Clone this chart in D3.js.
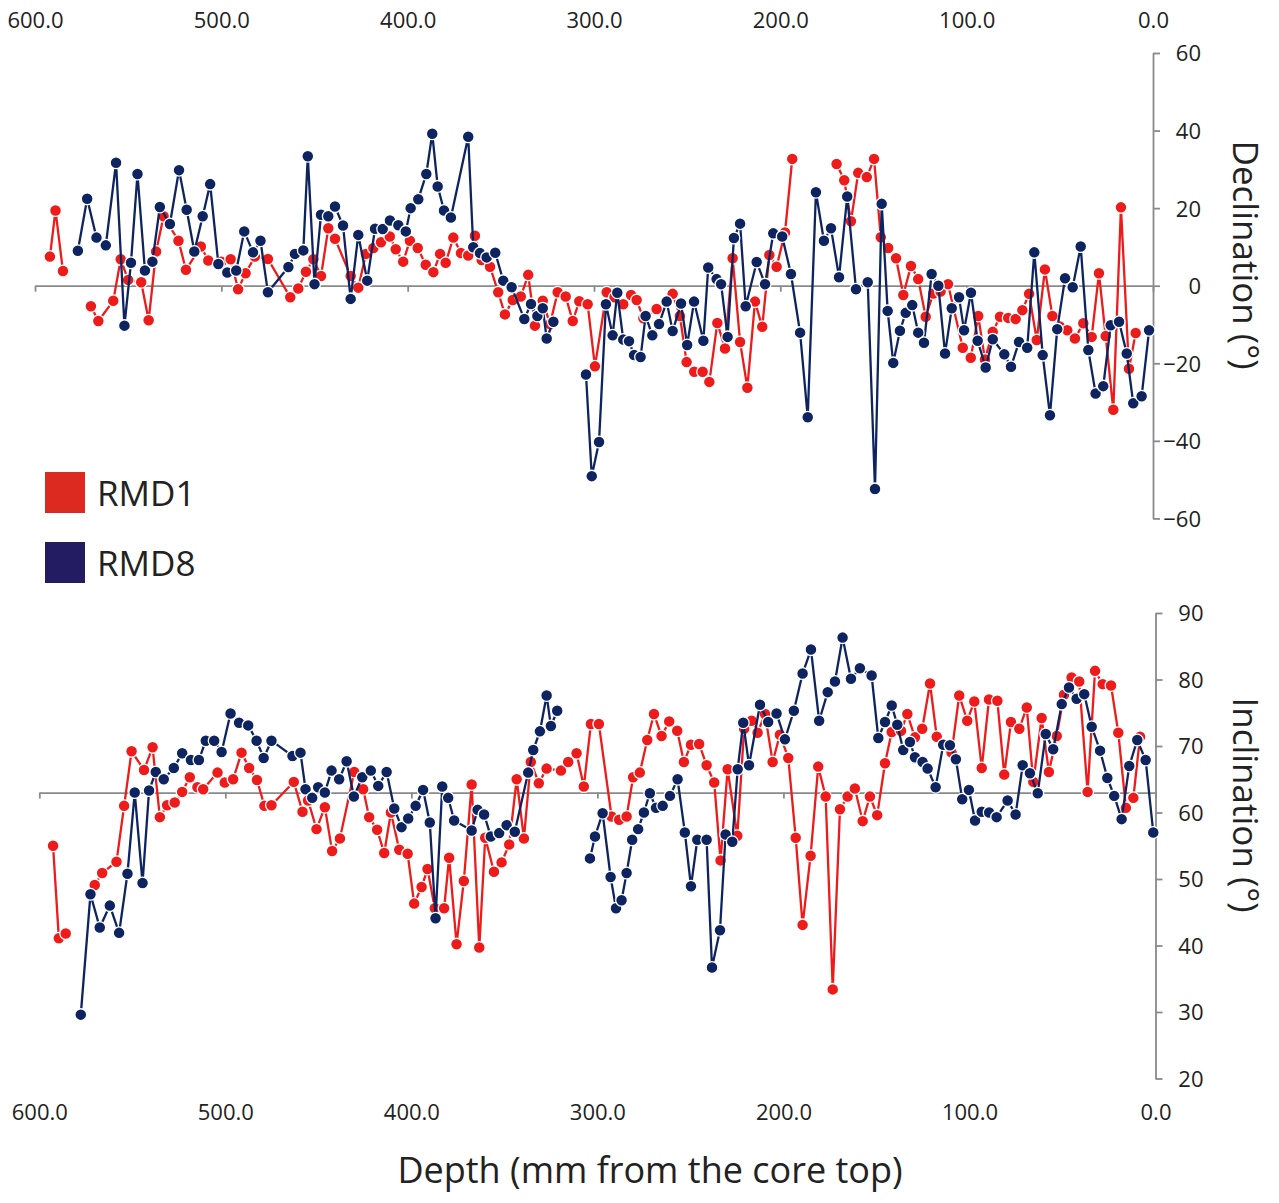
<!DOCTYPE html>
<html><head><meta charset="utf-8">
<script src="https://cdn.jsdelivr.net/npm/d3@7"></script>
<style>body{margin:0;background:#fff} text{font-family:"Open Sans",sans-serif}</style>
</head><body><svg id="c" width="1279" height="1203"></svg>
<script>
const xTicks=[600,500,400,300,200,100,0];
const declTicks=[-60,-40,-20,0,20,40,60];
const inclTicks=[20,30,40,50,60,70,80,90];
const seriesNames=["RMD1","RMD8"];
const inclBase=63;

// Declination, RMD1 (null = gap)
const rmd1DeclDepth=[592,589,585,577,570,566,558,554,550,543,539,535,531,523,519,511,507,500,495,491,487,482,475,463,458.7,454.6,450.6,446.5,442.6,439,430.6,426.5,422.4,418.4,414.3,409.6,406.4,402.4,398.8,394.6,390.3,386.2,382.6,379.6,375.5,371.4,367.5,363.9,360.3,355.8,351.4,347.8,343.6,339.3,335.3,331.7,327.5,323.6,319.5,315.2,311.4,307.9,303.4,299.5,293.2,289,284.3,280.1,277.1,273.5,266.4,257.8,253.9,250.3,246.2,241.7,238.1,233.8,229.7,225.6,221.6,217.7,213.6,209.7,205.9,202,197.5,193.6,182,169.8,165.7,162.1,158.2,153.6,149.7,146.1,142.1,137.9,134,129.9,126,122,117.9,114,110,102.1,97.8,93.8,90.2,86,82.1,77.7,73.7,70.1,66.5,62.4,58,54,50,46,41.9,37.4,32.9,29,25.4,21.3,17.2,12.9,9.3];
const rmd1Decl=[7.5,19.4,3.8,null,-5.3,-9.1,-3.9,6.8,1.5,0.9,-8.9,8.8,17.9,11.6,4.1,10.1,6.5,6.2,6.8,-0.9,3.2,7.5,6.9,-3,-0.7,3.6,6.8,2.5,14.8,12.1,2.5,-0.5,8.2,9.7,11.2,12.7,9.4,6.2,11.6,9.7,5.4,3.5,8.2,5.9,12.4,8.4,7.8,12.9,6.6,4.9,-1.7,-7.4,-3.7,-2.8,2.8,-10.3,-3.9,-9.9,-1.7,-2.8,-9.1,-4,-4.8,-20.8,-1.7,-3,-4.8,-2.4,-3.7,-8.4,-6,-2.1,-7.8,-19.7,-22.2,-22.2,-24.8,-9.6,-16.2,7.1,-14.5,-26.3,-4.1,-10.6,7.9,4.9,13.7,32.7,null,31.4,27.2,16.6,29.1,28,32.7,12.5,9.7,7.1,-2.4,5.1,1.7,-8,-2,-1.5,0.4,-16,-18.6,-7.8,-19,-11.9,-8,-8.3,-8.6,-6.3,-2.1,-14,4.2,-7.8,-10.5,-11.5,-13.6,-9.7,-13.2,3.2,-13,-32,20.2,-21.4,-12.2];

// Declination, RMD8
const rmd8DeclDepth=[577,572,567,562,556.5,552,548.5,545,541,537,533,527.6,522.7,518.6,514.5,510,506,501.6,496.8,492,487.7,483,479,475,464,460.5,456,453.6,450,446.5,442.6,439,434.7,430.6,426.5,421.7,417.5,413.4,409.5,405,401,398.4,394.3,390,386.8,383.9,380.5,376.8,367.5,364.8,361.2,357.6,353,348.7,344.2,337.4,333.8,330.4,327.5,325.4,321.8,313,304.3,301.2,297.3,293.6,290,287.5,284.3,281.2,278.5,275,272.3,268.7,265.1,261,257.8,253.3,250,246.3,241.3,238.7,234.2,231.8,228.3,224.9,221.6,218.6,212.7,208.2,203.8,199,194.3,189.4,185.3,180.9,176.6,172.8,168.5,164.1,159.4,153.1,149.2,145.6,142.4,139.4,135.8,132.7,129.2,126,122.9,118.8,115.2,111.6,108,104.1,101.4,97.7,94.1,89.8,86,79.8,76.2,71.9,67.5,63.7,59.2,55.3,51.4,47.2,43.1,38.8,34.7,30.8,26.7,22.7,18.2,14.1,10.6,6.1,2.1];
const rmd8Decl=[9,22.4,12.4,10.4,31.7,-10.3,5.9,28.8,3.9,6.2,20.3,15.9,29.8,19.6,8.8,17.9,26.2,5.6,3.4,3.9,14,8.6,11.6,-1.7,4.8,8.2,9.1,33.4,0.4,18.3,17.9,20.4,15.5,-3.4,13.1,1.3,14.7,14.6,16.8,15.6,14,20,22.3,28.8,39.2,25.6,19.4,17.6,38.4,9.9,8.4,7.3,8.5,1.3,-0.4,-8.6,-4.7,-7.8,-5.8,-13.6,-9.3,null,-22.9,-49.1,-40.3,-4.8,-12.8,-1.8,-13.9,-14.3,-17.9,-18.4,-7.8,-12.8,-9.9,-4.1,-11.7,-4.6,-15.3,-4.1,-14.2,4.7,1.7,0.4,-13.2,12.3,16,-5.3,6.1,0.4,13.5,12.7,3,-12.1,-33.9,24.1,11.6,14.8,2.2,23,-0.9,0.9,-52.4,21.1,-6.5,-19.9,-11.6,-7,-5,-12.1,-14.7,3,0,-17.5,-5.8,-3,-11.5,-1.8,-14.2,-21.1,-13.8,-17.7,-20.9,-14.5,-16,8.6,-17.9,-33.4,-11.2,1.9,-0.4,10.1,-16.6,-27.8,-25.9,-10.2,-9.3,-17.5,-30.3,-28.5,-11.5];

// Inclination, RMD1
const rmd1InclDepth=[592.6,589.5,585.8,578,570.2,566.2,558.5,554.4,550.4,543.7,539.1,535.2,531.3,527.2,523.2,519.1,515,511.9,504.2,500.3,495.8,491.3,487.2,483,479,475.2,463.2,458.5,455.5,451,446.5,442.6,438.4,430.7,425.9,422.7,418.4,414.6,411,406.5,402,398.5,394.5,391.3,387.4,382.4,379.7,375.7,371.8,367.6,363.5,360.3,355.6,351.5,347.4,343.4,339.5,335.8,331.5,327.3,319.6,315.7,311.2,307.3,303.5,299.2,292.4,288.3,284.3,280.8,277.2,273.2,269.6,265.5,261.4,257.1,253.5,249.7,245.3,241.3,237.2,233.8,230,224.8,221.1,217.1,213.9,209.9,205.8,201.9,197.4,193.4,189.7,185.4,181.3,177.3,173.5,169.6,165.5,161.6,157.4,153.5,149.6,145.4,141.8,136.8,133.4,129.3,125.4,121.2,117.6,109.6,105.5,101.2,97.4,93.4,89.5,85,81.3,77.7,73.2,69.2,65.7,61.2,57.3,53.1,49.2,45.1,41,36.5,32.5,28.4,23.9,20,15.9,11.9,8.3];
const rmd1Incl=[55,41.1,41.8,null,49.1,50.9,52.6,61,69.2,66.4,69.8,59.3,61.1,61.5,63.1,65.3,63.8,63.5,66,64.5,65,69,66.7,64.9,61,61.1,64.6,60.1,61.8,57.5,60.8,54.2,56.1,66.1,63.5,59.3,57.4,53.9,60,54.4,53.8,46.3,48.8,51.5,45.6,45.6,53.2,40.2,49.7,64.2,39.7,56.2,51.1,52.5,55.2,65,56.1,67.6,64.4,66.6,66.3,67.6,68.9,63.9,73.3,73.3,59.4,58.9,59.4,65.3,66,70.9,74.8,71.5,73.7,72.3,67.6,70.2,70.3,67.1,64.5,52.8,66.5,56.5,72.6,73.8,72,74.8,67.6,71.7,68.2,56.2,43.1,53.5,66.9,62.4,33.4,60.5,62.4,63.6,58.7,62.4,59.6,67.4,72.1,72.3,74.8,71.3,72.6,79.4,71.4,69,77.6,73.8,76.7,66.7,77,76.8,65.7,73.6,72.6,75.8,64.6,74.2,66.1,71.5,77.7,80.3,79.7,63.1,81.3,79.3,79.1,72,60.7,62.2,71.4];

// Inclination, RMD8
const rmd8InclDepth=[577.7,572.5,567.5,562.1,557.1,552.6,548.7,544.5,541,537.4,533.1,527.7,523.2,518.5,514.2,510.5,506,502,497.2,492.6,487.7,483.2,479.4,475.2,463.9,459.6,456.9,453.3,450.1,446.5,442.9,438.8,434.8,430.9,426.4,421.8,417.8,413.3,409.2,405.3,401.7,397.7,393.7,390.1,387,383.4,380.2,377,367.6,364.4,360.9,357.3,352.8,348.8,344.4,337.2,334.5,330.9,327.3,325,321.6,313,304,301.3,297.2,292.9,290,287,284.3,281.3,278.1,275,271.8,268.5,264.9,261,256.9,253,249.7,246.3,241.3,238.4,234.1,231.1,227.5,224.6,221.6,218.5,212.6,208.2,203.7,199.2,194.4,189.7,185.2,180.8,176.2,172.3,168.2,163.7,158.9,152.6,149,145.4,141.8,138.8,135.6,132,129.3,125.2,122.5,118.2,114.1,110.5,107.3,103.9,100.3,97,93.4,89.4,85.4,79.5,75.2,71.4,67.5,63.3,59,55,50.4,46.5,42.4,38.3,34.3,29.8,25.9,22.2,18.2,14.1,9.8,5.3,1.2];
const rmd8Incl=[29.6,47.7,42.7,46,41.9,50.8,63,49.4,63.3,66.1,65,66.7,68.9,67.9,67.9,70.8,70.8,69.1,74.9,73.5,73.1,70.8,68.2,70.8,68.5,69,63.5,62.2,63.8,63,66.3,65,67.7,62.4,65.3,66.3,64,66.1,60.6,57.8,59.1,61,63.4,58.5,44.1,63.9,62.2,58.8,57.3,60.4,59.7,56.4,56.9,58.1,57.1,66,69.4,72.2,77.6,73,75.3,null,53.1,56.4,59.9,50.3,45.6,46.8,50.9,55.9,57.5,60,62.9,60.7,61,62.5,65,57,48.9,55.9,55.9,36.7,42.3,56.7,55.6,66.5,73.5,67.1,76.2,73.6,74.9,71,75.3,80.9,84.5,73.8,78.1,79.7,86.3,80.1,81.7,80.6,71.2,73.6,76.1,73.2,69.4,70.6,68.3,67.6,66.6,63.8,70.2,70.1,68,62,63.4,58.8,60.1,60,59.3,61.8,59.7,67.1,65.9,62.9,71.8,69.5,76.3,78.8,77.1,77.8,72.9,69.3,65.2,62.5,59,67,70.9,67.9,57];

const RED="#ee1b1b", NAVY="#0d2461", AXIS="#8a8a8a";
const svg=d3.select("#c");
const fmtX=d3.format(".1f");

function zip(ds,vs){return ds.map((d,i)=>({d:d,v:vs[i]}));}

function panel(x,y,base,yTicks,labelY,series){
  const g=svg.append("g");
  const bx=g.append("g").attr("transform",`translate(0,${y(base)})`)
    .call(d3.axisBottom(x).tickValues(xTicks).tickSize(6).tickSizeOuter(0).tickFormat(""));
  bx.selectAll("path,line").attr("stroke",AXIS).attr("stroke-width",1.8);
  const ra=g.append("g").attr("transform",`translate(${x(0)},0)`)
    .call(d3.axisRight(y).tickValues(yTicks).tickSize(7).tickSizeOuter(0).tickPadding(0));
  ra.select(".domain").attr("stroke",AXIS).attr("stroke-width",1.8);
  ra.selectAll("line").attr("stroke",AXIS).attr("stroke-width",1.8);
  ra.selectAll("text").attr("x",48).attr("text-anchor","end").attr("dy","0.36em")
    .attr("font-size",22).attr("fill","#222").style("font-family",'"Open Sans",sans-serif');
  const xa=g.append("g").attr("transform",`translate(0,${labelY})`)
    .call(d3.axisBottom(x).tickValues(xTicks).tickSize(0).tickPadding(0).tickFormat(fmtX));
  xa.select(".domain").remove();
  xa.selectAll("text").attr("dy",0).attr("font-size",22).attr("fill","#222").style("font-family",'"Open Sans",sans-serif');
  const line=d3.line().defined(p=>p.v!==null).x(p=>x(p.d)).y(p=>y(p.v));
  series.forEach(s=>{
    const pts=zip(s.depth,s.vals);
    g.append("path").datum(pts).attr("d",line).attr("fill","none").attr("stroke",s.color).attr("stroke-width",2.3);
    g.append("g").selectAll("circle").data(pts.filter(p=>p.v!==null)).join("circle")
      .attr("cx",p=>x(p.d)).attr("cy",p=>y(p.v)).attr("r",5.9)
      .attr("fill",s.color).attr("stroke","#fff").attr("stroke-width",1.3);
  });
}

const xTop=d3.scaleLinear().domain([600,0]).range([35,1153]);
const yDec=d3.scaleLinear().domain([-60,60]).range([518.4,53]);
const xBot=d3.scaleLinear().domain([600,0]).range([39.3,1155.5]);
const yInc=d3.scaleLinear().domain([20,90]).range([1078.5,613]);

panel(xTop,yDec,0,declTicks,28,[
  {depth:rmd1DeclDepth,vals:rmd1Decl,color:RED},
  {depth:rmd8DeclDepth,vals:rmd8Decl,color:NAVY}]);
panel(xBot,yInc,inclBase,inclTicks,1120,[
  {depth:rmd1InclDepth,vals:rmd1Incl,color:RED},
  {depth:rmd8InclDepth,vals:rmd8Incl,color:NAVY}]);

const legColors=["#dc2a20","#231c62"];
seriesNames.forEach((n,i)=>{
  const yy=472+i*70;
  svg.append("rect").attr("x",45).attr("y",yy).attr("width",40).attr("height",41).attr("fill",legColors[i]);
  svg.append("text").attr("x",97).attr("y",yy+34).attr("font-size",35).attr("fill","#222").text(n);
});

svg.append("text").attr("transform","translate(1233,255) rotate(90)").attr("text-anchor","middle")
  .attr("font-size",35).attr("fill","#222").text("Declination (°)");
svg.append("text").attr("transform","translate(1233,805) rotate(90)").attr("text-anchor","middle")
  .attr("font-size",35).attr("fill","#222").text("Inclination (°)");
svg.append("text").attr("x",650).attr("y",1183).attr("text-anchor","middle")
  .attr("font-size",36).attr("fill","#222").text("Depth (mm from the core top)");
</script></body></html>
